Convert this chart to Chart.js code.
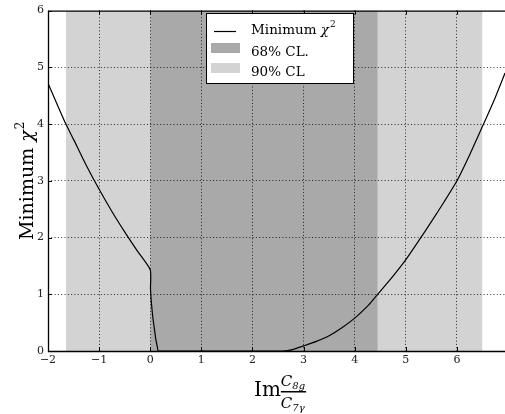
<!DOCTYPE html>
<html>
<head>
<meta charset="utf-8">
<script src="https://cdn.jsdelivr.net/npm/chart.js@4.4.1/dist/chart.umd.min.js"></script>
<style>
  html, body { margin: 0; padding: 0; background: #fff; }
  canvas { display: block; }
</style>
</head>
<body>
<canvas id="viz" width="505" height="414"></canvas>
<script>
// curve
const curveX = [-2, -1.75, -1.65, -1.5, -1.25, -1, -0.75, -0.5, -0.25, 0,
  0.005, 0.02, 0.05, 0.08, 0.11, 0.14, 0.16, 1, 2, 2.6, 2.8, 3, 3.25, 3.5, 3.75,
  4, 4.25, 4.45, 4.75, 5, 5.25, 5.5, 5.75, 6, 6.25, 6.52, 6.75, 6.94];
const curveY = [4.72, 4.2, 4.0, 3.73, 3.27, 2.85, 2.46, 2.1, 1.76, 1.43,
  1.1, 0.88, 0.6, 0.4, 0.2, 0.07, 0, 0, 0, 0, 0.03, 0.09, 0.17, 0.27, 0.41,
  0.58, 0.79, 1.0, 1.32, 1.61, 1.94, 2.28, 2.63, 3.0, 3.46, 4.0, 4.47, 4.9];

// confidence bands (x ranges)
const band68 = [0, 4.45];
const band90 = [-1.65, 6.5];

const xTicks = [-2, -1, 0, 1, 2, 3, 4, 5, 6];
const yTicks = [0, 1, 2, 3, 4, 5, 6];
const xMin = -2, xMax = 6.94, yMin = 0, yMax = 6;

const serif = '"DejaVu Serif", "Liberation Serif", serif';

const fmt = v => v < 0 ? '\u2212' + Math.abs(v) : String(v);

// hide grid lines that sit on the frame
const gridColor = edge => ctx => edge.includes(ctx.tick.value) ? 'rgba(0,0,0,0)' : 'rgba(0,0,0,0.8)';

const chartData = {
  datasets: [
    {
      label: 'Minimum \u03c7\u00b2',
      data: curveX.map((x, i) => ({ x: x, y: curveY[i] })),
      borderColor: '#000',
      borderWidth: 1.2,
      pointRadius: 0,
      tension: 0.2,
      fill: false,
      order: 0
    },
    {
      label: '68% CL.',
      data: band68.map(x => ({ x: x, y: yMax })),
      borderWidth: 0,
      pointRadius: 0,
      backgroundColor: '#a9a9a9',
      fill: 'origin',
      order: 1
    },
    {
      label: '90% CL',
      data: band90.map(x => ({ x: x, y: yMax })),
      borderWidth: 0,
      pointRadius: 0,
      backgroundColor: '#d3d3d3',
      fill: 'origin',
      order: 2
    }
  ]
};

// frame, inward ticks, axis titles and legend
const decorations = {
  id: 'decorations',
  afterDraw(chart) {
    const c = chart.ctx;
    const a = chart.chartArea;
    const xs = chart.scales.x, ys = chart.scales.y;
    c.save();
    c.strokeStyle = '#000';
    c.lineWidth = 1.3;
    c.beginPath();
    c.moveTo(a.right + 2, a.top + 0.5);
    c.lineTo(a.left + 0.5, a.top + 0.5);
    c.lineTo(a.left + 0.5, a.bottom + 0.5);
    c.lineTo(a.right + 2, a.bottom + 0.5);
    c.stroke();

    c.lineWidth = 1;
    c.beginPath();
    xTicks.forEach(v => {
      const px = Math.round(xs.getPixelForValue(v)) + 0.5;
      c.moveTo(px, a.bottom); c.lineTo(px, a.bottom - 4);
      c.moveTo(px, a.top); c.lineTo(px, a.top + 4);
    });
    yTicks.forEach(v => {
      const py = Math.round(ys.getPixelForValue(v)) + 0.5;
      c.moveTo(a.left, py); c.lineTo(a.left + 4, py);
    });
    c.stroke();

    // y title: Minimum χ²
    c.fillStyle = '#000';
    c.textBaseline = 'alphabetic';
    const f1 = '19px ' + serif, f2 = 'italic 19px ' + serif, f3 = '12px ' + serif;
    c.font = f1; const w1 = c.measureText('Minimum ').width;
    c.font = f2; const w2 = c.measureText('\u03c7').width;
    c.font = f3; const w3 = c.measureText('2').width;
    const tot = w1 + w2 + w3 + 1;
    c.translate(33, (a.top + a.bottom) / 2);
    c.rotate(-Math.PI / 2);
    let sx = -tot / 2;
    c.textAlign = 'left';
    c.font = f1; c.fillText('Minimum ', sx, 0); sx += w1;
    c.font = f2; c.fillText('\u03c7', sx, 0); sx += w2 + 1;
    c.font = f3; c.fillText('2', sx, -9);
    c.setTransform(1, 0, 0, 1, 0, 0);

    // x title: Im C8g / C7γ
    let tx = 254;
    c.font = '20px ' + serif;
    const wIm = c.measureText('Im').width;
    c.fillText('Im', tx, 396);
    tx += wIm;
    c.font = 'italic 15px ' + serif;
    const wC = c.measureText('C').width;
    c.fillText('C', tx, 386);
    c.fillText('C', tx, 408);
    c.font = 'italic 10px ' + serif;
    const wNum = c.measureText('8g').width, wDen = c.measureText('7\u03b3').width;
    c.fillText('8g', tx + wC, 389);
    c.fillText('7\u03b3', tx + wC, 411);
    c.fillRect(tx, 391, wC + Math.max(wNum, wDen) + 1, 1.5);

    // legend
    const lx = 206, ly = 13, lw = 147, lh = 70;
    c.fillStyle = '#fff';
    c.fillRect(lx, ly, lw, lh);
    c.strokeStyle = '#000';
    c.lineWidth = 1;
    c.strokeRect(lx + 0.5, ly + 0.5, lw, lh);
    const baselines = [34, 56, 76];
    const textX = 251;
    chart.data.datasets.forEach((ds, i) => {
      const by = baselines[i];
      if (i === 0) {
        c.beginPath();
        c.moveTo(214, 31.5); c.lineTo(236, 31.5);
        c.lineWidth = 1.2; c.strokeStyle = '#000'; c.stroke();
      } else {
        c.fillStyle = ds.backgroundColor;
        c.fillRect(211, by - 13, 29, 10);
      }
      c.fillStyle = '#000';
      c.textBaseline = 'alphabetic';
      c.font = '13.5px ' + serif;
      if (i === 0) {
        c.fillText('Minimum ', textX, by);
        const wm = c.measureText('Minimum ').width;
        c.font = 'italic 13.5px ' + serif;
        c.fillText('\u03c7', textX + wm, by);
        const wx = c.measureText('\u03c7').width;
        c.font = '9px ' + serif;
        c.fillText('2', textX + wm + wx + 1, by - 7);
      } else {
        c.fillText(ds.label, textX, by);
      }
    });
    c.restore();
  }
};

const chart = new Chart(document.getElementById('viz'), {
  type: 'line',
  data: chartData,
  options: {
    responsive: false,
    animation: false,
    layout: { padding: { top: 6, right: 0, left: 0, bottom: 0 } },
    plugins: { legend: { display: false }, tooltip: { enabled: false } },
    scales: {
      x: {
        type: 'linear',
        min: xMin,
        max: xMax,
        afterBuildTicks: s => { s.ticks = xTicks.map(v => ({ value: v })); },
        afterFit: s => { s.height = 63; },
        ticks: {
          callback: fmt,
          color: '#222',
          font: { family: serif, size: 11 },
          padding: 3,
          maxRotation: 0,
          autoSkip: false
        },
        grid: { color: gridColor([xMin]), lineWidth: 1, drawTicks: false, z: 1 },
        border: { display: false, dash: [1, 2.3] }
      },
      y: {
        type: 'linear',
        min: yMin,
        max: yMax,
        afterBuildTicks: s => { s.ticks = yTicks.map(v => ({ value: v })); },
        afterFit: s => { s.width = 48; },
        ticks: {
          callback: fmt,
          color: '#222',
          font: { family: serif, size: 11 },
          padding: 4
        },
        grid: { color: gridColor([yMin, yMax]), lineWidth: 1, drawTicks: false, z: 1 },
        border: { display: false, dash: [1, 2.3] }
      }
    }
  },
  plugins: [decorations]
});
</script>
</body>
</html>
